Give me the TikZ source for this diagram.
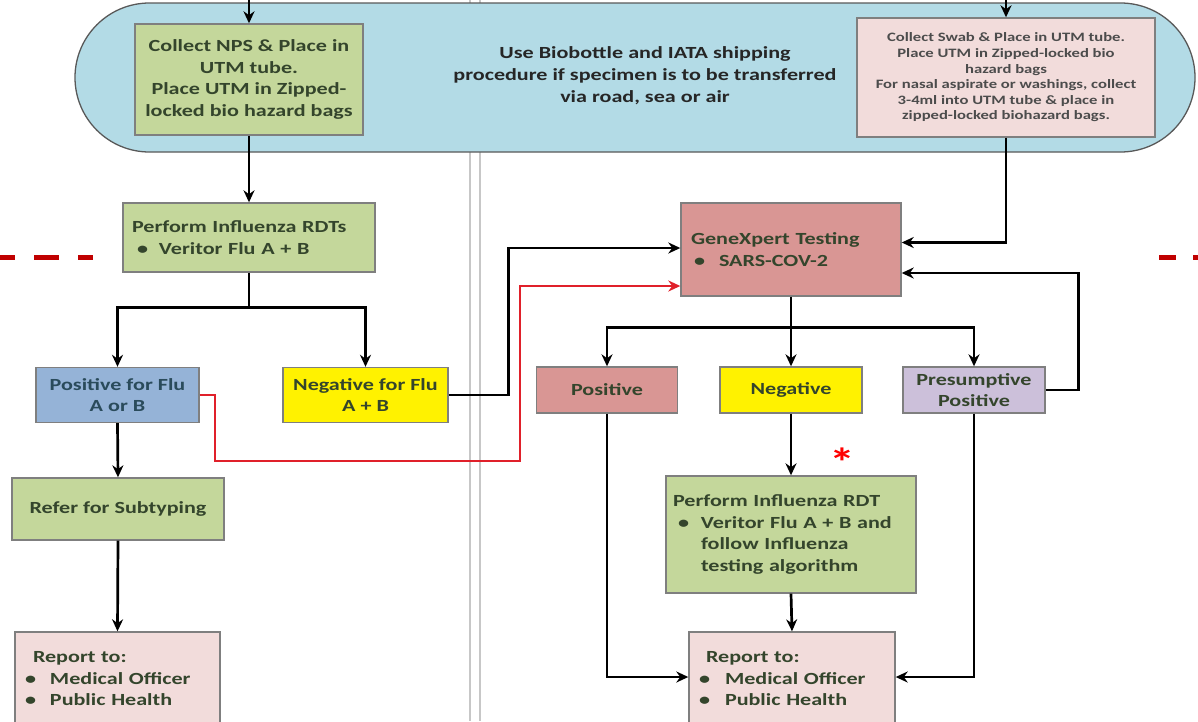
\documentclass[tikz,border=0pt]{standalone}
\usepackage{fontspec}
\setmainfont{Carlito}[FakeStretch=1.3]
\usetikzlibrary{arrows.meta}

\definecolor{pillblue}{HTML}{B3DBE6}
\definecolor{boxgreen}{HTML}{C4D79B}
\definecolor{boxpink}{HTML}{F2DCDB}
\definecolor{boxrose}{HTML}{D99694}
\definecolor{boxblue}{HTML}{95B3D7}
\definecolor{boxlilac}{HTML}{CCC0DA}
\definecolor{boxline}{HTML}{7F7F7F}
\definecolor{txt}{HTML}{34452C}
\definecolor{txtblue}{HTML}{2A4B5B}
\definecolor{flured}{HTML}{E0202A}
\definecolor{darkred}{HTML}{C00000}

\newcommand{\bul}[1][25pt]{\makebox[#1][l]{\textbullet}}

\begin{document}
\begin{tikzpicture}[x=1pt, y=-1pt, >={Stealth[length=12pt,width=11pt]},
  box/.style={draw=boxline, line width=1.4pt, inner sep=3pt, text=txt, align=center,
    font=\bfseries\fontsize{17}{21.5}\selectfont},
  leftbox/.style={box, align=left},
  flow/.style={line width=2.7pt},
  redflow/.style={flow, draw=flured, line width=2.3pt},
  divider/.style={draw=black!22, line width=1.3pt},
  cut/.style={draw=darkred, line width=5pt}]

\useasboundingbox (0,0) rectangle (1198,721);
% page columns
\draw[divider] (470,0) -- (470,721);
\draw[divider] (480,0) -- (480,721);

% transport band
\node[draw=boxline!70!black, line width=1.3pt, fill=pillblue, rounded corners=74.5pt,
  minimum width=1120pt, minimum height=149pt] (band) at (635,77.5) {};
\node[font=\bfseries\fontsize{17}{22}\selectfont, text=black!85, align=center] (ship) at (645,76)
  {Use Biobottle and IATA shipping\\procedure if specimen is to be transferred\\via road, sea or air};

\node[box, fill=boxgreen, minimum width=228pt, minimum height=111pt] (nps) at (249,79.5)
  {Collect NPS \& Place in\\UTM tube.\\Place UTM in Zipped-\\locked bio hazard bags};
\node[box, fill=boxpink, text=black!70, font=\bfseries\fontsize{12.8}{15.6}\selectfont,
  minimum width=298pt, minimum height=119pt] (swab) at (1006,77.5)
  {Collect Swab \& Place in UTM tube.\\Place UTM in Zipped-locked bio\\hazard bags\\
   For nasal aspirate or washings, collect\\3-4ml into UTM tube \& place in\\zipped-locked biohazard bags.};

% influenza side
\node[leftbox, fill=boxgreen, text width=234pt, inner xsep=9pt, minimum height=69pt] (rdts) at (249,237.5)
  {Perform Influenza RDTs\\\hspace*{5pt}\bul[22pt]Veritor Flu A + B};
\node[box, fill=boxblue, text=txtblue, minimum width=163pt, minimum height=55pt] (posflu) at (117.5,395)
  {Positive for Flu\\A or B};
\node[box, fill=yellow, minimum width=165pt, minimum height=55pt] (negflu) at (365.5,395)
  {Negative for Flu\\A + B};
\node[box, fill=boxgreen, minimum width=212pt, minimum height=62pt] (subtype) at (118,509)
  {Refer for Subtyping};
\node[leftbox, fill=boxpink, text width=185pt, inner xsep=10pt, minimum height=94pt] (reportL) at (117.5,679)
  {\hspace*{8pt}Report to:\\\bul Medical Officer\\\bul Public Health};

% SARS-CoV-2 side
\node[leftbox, fill=boxrose, text width=200pt, inner xsep=10pt, minimum height=93pt] (gx) at (791,249.5)
  {GeneXpert Testing\\\hspace*{3pt}\bul[25pt]SARS-COV-2};
\node[box, fill=boxrose, minimum width=141pt, minimum height=46pt] (pos) at (607,390) {Positive};
\node[box, fill=yellow, minimum width=142pt, minimum height=46pt] (neg) at (791,390) {Negative};
\node[box, fill=boxlilac, inner ysep=1pt, minimum width=142pt, minimum height=46pt] (presum) at (974,390)
  {Presumptive\\Positive};
\node[leftbox, fill=boxgreen, text width=236pt, inner xsep=7pt, minimum height=117pt] (rdt) at (791,534.5)
  {Perform Influenza RDT\\\hspace*{5pt}\bul[23pt]Veritor Flu A + B and\\
   \hspace*{28pt}follow Influenza\\\hspace*{28pt}testing algorithm};
\node[leftbox, fill=boxpink, text width=186pt, inner xsep=10pt, minimum height=94pt] (reportR) at (792,679)
  {\hspace*{7pt}Report to:\\\bul[26pt]Medical Officer\\\bul[26pt]Public Health};
\node[text=red, font=\bfseries\fontsize{40}{40}\selectfont] (note) at (842,462) {*};

% connectors
\coordinate (inNPS) at (249,0);
\coordinate (inSwab) at (1006,0);
\draw[flow,->] (inNPS) -- (nps.north);
\draw[flow,->] (inSwab) -- (swab.north);
\draw[flow,->] (nps.south) -- (rdts.north);
\draw[flow] (rdts.south) -- ++(0,35) coordinate (fork1);
\draw[flow,<->] (posflu.north) |- (fork1) -| (negflu.north);
\draw[flow,->] (posflu.south) -- (subtype.north);
\draw[flow,->] (subtype.south) -- (reportL.north);
\draw[flow,->] (negflu.east) -- ++(60,0) |- ([yshift=1.5pt]gx.west);
% flu positive goes on to GeneXpert too
\coordinate (redturn) at (520,461);
\draw[redflow,->] (posflu.east) -- ++(15,0) |- (redturn) |- ([yshift=-36.5pt]gx.west);
\draw[flow,->] (swab.south) |- ([yshift=7pt]gx.east);
\draw[flow,->] (presum.east) -- ++(33,0) |- ([yshift=-23.5pt]gx.east);
\draw[flow] (gx.south) -- ++(0,31) coordinate (fork2);
\draw[flow,<->] (pos.north) |- (fork2) -| (presum.north);
\draw[flow,->] (fork2) -- (neg.north);
\draw[flow,->] (neg.south) -- (rdt.north);
\draw[flow,->] (rdt.south) -- (reportR.north);
\draw[flow,->] (pos.south) |- ([yshift=2pt]reportR.west);
\draw[flow,->] (presum.south) |- ([yshift=2pt]reportR.east);

% cut marks
\draw[cut, dash pattern=on 25pt off 19pt, dash phase=10pt] (0,257) -- (93,257);
\draw[cut, dash pattern=on 17pt off 17pt] (1159,257) -- (1198,257);
\end{tikzpicture}
\end{document}
